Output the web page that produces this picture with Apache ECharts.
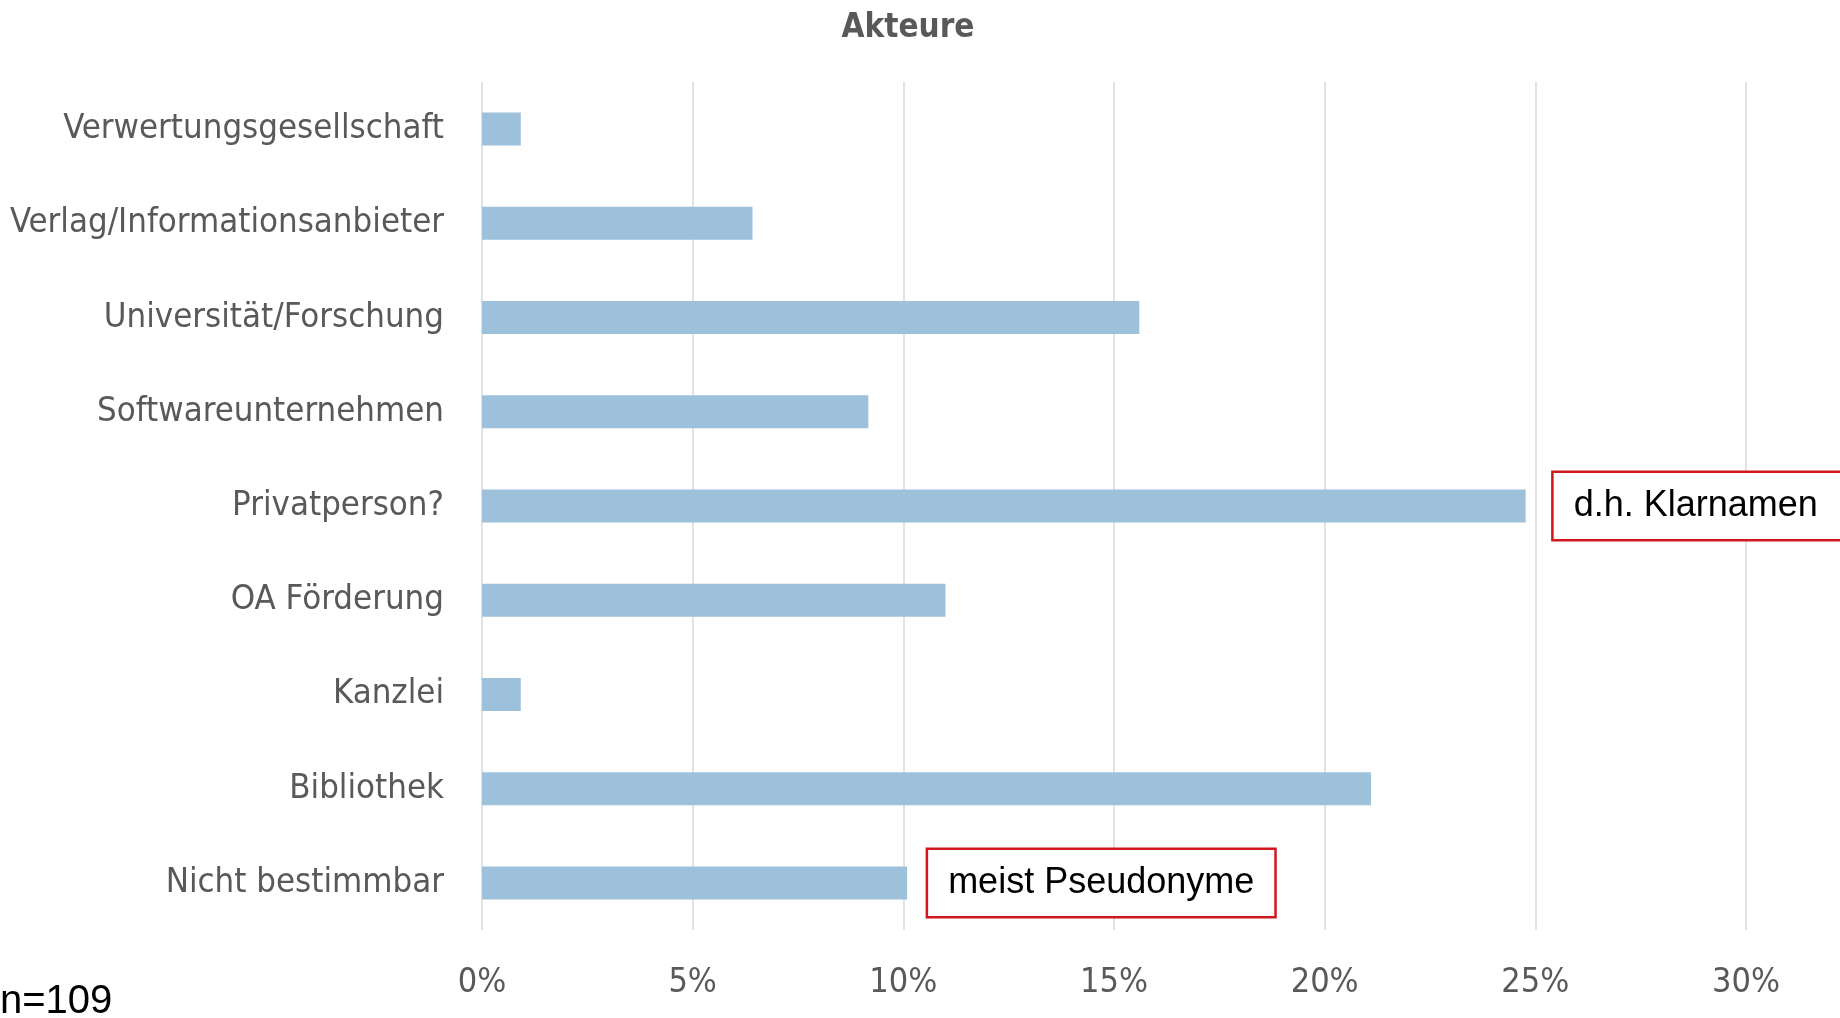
<!DOCTYPE html>
<html>
<head>
<meta charset="utf-8">
<script src="https://cdn.jsdelivr.net/npm/echarts@6/dist/echarts.min.js"></script>
<style>
  html, body { margin: 0; padding: 0; background: #fff; }
  #chart { width: 1840px; height: 1018px; }
</style>
</head>
<body>
<div id="chart"></div>
<script>
const categories = [
  'Verwertungsgesellschaft',
  'Verlag/Informationsanbieter',
  'Universität/Forschung',
  'Softwareunternehmen',
  'Privatperson?',
  'OA Förderung',
  'Kanzlei',
  'Bibliothek',
  'Nicht bestimmbar'
];
// share of n=109 in percent
const shares = [0.92, 6.42, 15.6, 9.17, 24.77, 11.0, 0.92, 21.1, 10.09];
const notes = { 'Privatperson?': 'd.h. Klarnamen', 'Nicht bestimmbar': 'meist Pseudonyme' };
const xTicks = [0, 5, 10, 15, 20, 25, 30];

const narrow = "'Liberation Sans Narrow', 'Arial Narrow', 'DejaVu Sans Condensed', sans-serif";
const plain = "'Liberation Sans', Arial, sans-serif";

const seriesData = shares.map((v, i) => {
  const note = notes[categories[i]];
  if (!note) return v;
  return {
    value: v,
    label: {
      show: true,
      position: 'right',
      distance: i === 4 ? 28 : 21,
      formatter: note,
      color: '#000',
      fontFamily: plain,
      fontSize: 36,
      borderColor: '#D0161E',
      borderWidth: 2.5,
      padding: i === 4 ? [15, 40, 15, 20] : [15, 20, 15, 20],
      backgroundColor: '#fff'
    }
  };
});

const chart = echarts.init(document.getElementById('chart'));
chart.setOption({
  animation: false,
  title: {
    text: 'Akteure',
    left: 903,
    top: 7,
    textAlign: 'center',
    textStyle: { fontFamily: narrow, fontSize: 33, fontWeight: 'bold', color: '#595959' }
  },
  grid: { left: 482, right: 94, top: 82, bottom: 88, containLabel: false, outerBoundsMode: 'none' },
  xAxis: {
    type: 'value',
    min: xTicks[0],
    max: xTicks[xTicks.length - 1],
    interval: 5,
    axisLine: { show: false },
    axisTick: { show: false },
    splitLine: { lineStyle: { color: '#D9D9D9', width: 1.5 } },
    axisLabel: {
      formatter: '{value}%',
      margin: 36,
      color: '#595959',
      fontFamily: narrow,
      fontSize: 34
    }
  },
  yAxis: {
    type: 'category',
    inverse: true,
    data: categories,
    axisLine: { show: false },
    axisTick: { show: false },
    axisLabel: { margin: 38, color: '#595959', fontFamily: narrow, fontSize: 34.5 }
  },
  series: [{
    type: 'bar',
    data: seriesData,
    barWidth: 33,
    itemStyle: { color: '#9DC0DB' }
  }],
  graphic: [{
    type: 'text',
    left: 0,
    bottom: -4,
    style: { text: 'n=109', fontFamily: plain, fontSize: 40, fill: '#000' }
  }]
});
</script>
</body>
</html>
